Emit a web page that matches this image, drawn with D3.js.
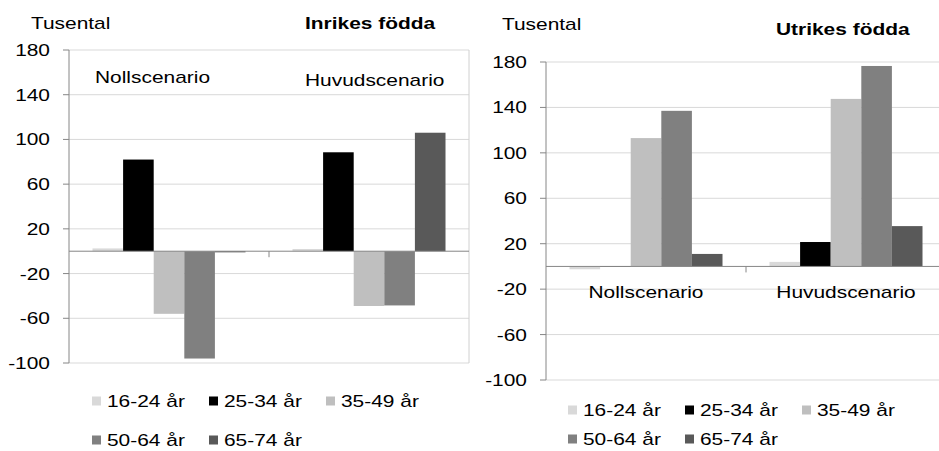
<!DOCTYPE html>
<html>
<head>
<meta charset="utf-8">
<script src="https://cdn.jsdelivr.net/npm/d3@7"></script>
<style>
  body { margin: 0; background: #fff; }
  svg { display: block; }
  text { font-family: "Liberation Sans", Arial, sans-serif; fill: #000; }
</style>
</head>
<body>
<div id="chart"></div>
<script>
// values in thousands
const categories = ["Nollscenario", "Huvudscenario"];
const seriesNames = ["16-24 år", "25-34 år", "35-49 år", "50-64 år", "65-74 år"];
const seriesColors = ["#d9d9d9", "#000000", "#bfbfbf", "#808080", "#595959"];
const inrikesNoll = [2.5, 82, -56, -96, -1];
const inrikesHuvud = [2, 88.5, -49, -48.5, 106];
const utrikesNoll = [-2.5, -0.5, 113, 137, 11];
const utrikesHuvud = [4, 21.5, 147.5, 176.5, 35.5];
const yTicks = [-100, -60, -20, 20, 60, 100, 140, 180];

// the source text is wider than plain Arial
const STRETCH = 1.23;
const FONT = 17;

const svg = d3.select("#chart").append("svg")
    .attr("width", 939)
    .attr("height", 451);

function addText(g, x, y, str, opts = {}) {
    return g.append("text")
        .attr("transform", `translate(${x},${y}) scale(${STRETCH},1)`)
        .attr("font-size", FONT)
        .attr("font-weight", opts.bold ? "bold" : null)
        .attr("text-anchor", opts.anchor || "start")
        .text(str);
}

function drawPanel(cfg) {
    const g = svg.append("g");
    const y = d3.scaleLinear().domain([-100, 180]).range([cfg.bottom, cfg.top]);
    const x0 = d3.scaleBand().domain(categories).range([cfg.left, cfg.right])
        .paddingInner(0.235).paddingOuter(0.1175);
    const x1 = d3.scaleBand().domain(seriesNames).range([0, x0.bandwidth()]);

    // gridlines
    g.selectAll(".grid")
        .data(yTicks)
        .join("line")
        .attr("x1", cfg.left).attr("x2", Math.min(cfg.right, 939))
        .attr("y1", d => y(d)).attr("y2", d => y(d))
        .attr("stroke", "#d9d9d9")
        .attr("stroke-width", 1);

    if (cfg.border) {
        g.append("line")
            .attr("x1", cfg.right).attr("x2", cfg.right)
            .attr("y1", cfg.top).attr("y2", cfg.bottom)
            .attr("stroke", "#d0d0d0");
    }

    // bars
    const rows = categories.map((c, i) => ({ cat: c, vals: cfg.values[i] }));
    const groups = g.selectAll(".grp")
        .data(rows)
        .join("g")
        .attr("transform", d => `translate(${x0(d.cat)},0)`);
    groups.selectAll("rect")
        .data(d => d.vals.map((v, i) => ({ name: seriesNames[i], v, i })))
        .join("rect")
        .attr("x", d => x1(d.name))
        .attr("width", x1.bandwidth())
        .attr("y", d => y(Math.max(0, d.v)))
        .attr("height", d => Math.abs(y(d.v) - y(0)))
        .attr("fill", d => seriesColors[d.i]);

    // y axis
    g.append("line")
        .attr("x1", cfg.left).attr("x2", cfg.left)
        .attr("y1", cfg.top).attr("y2", cfg.bottom)
        .attr("stroke", "#868686");
    g.selectAll(".tick")
        .data(yTicks)
        .join("line")
        .attr("x1", cfg.left - 6).attr("x2", cfg.left)
        .attr("y1", d => y(d)).attr("y2", d => y(d))
        .attr("stroke", "#868686");
    yTicks.forEach(v => addText(g, cfg.left - 19, y(v) + 6, String(v), { anchor: "end" }));

    // zero line + category tick
    g.append("line")
        .attr("x1", cfg.left).attr("x2", Math.min(cfg.right, 939))
        .attr("y1", y(0)).attr("y2", y(0))
        .attr("stroke", "#868686");
    const mid = (cfg.left + cfg.right) / 2;
    g.append("line")
        .attr("x1", mid).attr("x2", mid)
        .attr("y1", y(0)).attr("y2", y(0) + 6)
        .attr("stroke", "#868686");

    // texts
    addText(g, cfg.unitX, cfg.unitY, "Tusental");
    addText(g, cfg.titleX, cfg.titleY, cfg.title, { bold: true });
    cfg.catLabels(g, x0);

    // legend
    seriesNames.forEach((name, i) => {
        const row = i < 3 ? 0 : 1;
        const col = i < 3 ? i : i - 3;
        const lx = cfg.legendX + col * 117;
        const ly = cfg.legendY[row];
        g.append("rect")
            .attr("x", lx).attr("y", ly - 4.5)
            .attr("width", 9).attr("height", 9)
            .attr("fill", seriesColors[i]);
        addText(g, lx + 15, ly + 6, name);
    });
}

drawPanel({
    left: 69, right: 469, top: 50, bottom: 363, border: true,
    values: [inrikesNoll, inrikesHuvud],
    title: "Inrikes födda",
    unitX: 31, unitY: 29, titleX: 305, titleY: 29,
    catLabels: (g) => {
        addText(g, 95, 83, categories[0]);
        addText(g, 305, 86, categories[1]);
    },
    legendX: 92, legendY: [401, 440]
});

drawPanel({
    left: 546, right: 946, top: 62, bottom: 380, border: false,
    values: [utrikesNoll, utrikesHuvud],
    title: "Utrikes födda",
    unitX: 502, unitY: 30, titleX: 776, titleY: 35,
    catLabels: (g, x0) => {
        categories.forEach(c => addText(g, x0(c) + x0.bandwidth() / 2, 298, c, { anchor: "middle" }));
    },
    legendX: 568, legendY: [410, 439]
});
</script>
</body>
</html>
